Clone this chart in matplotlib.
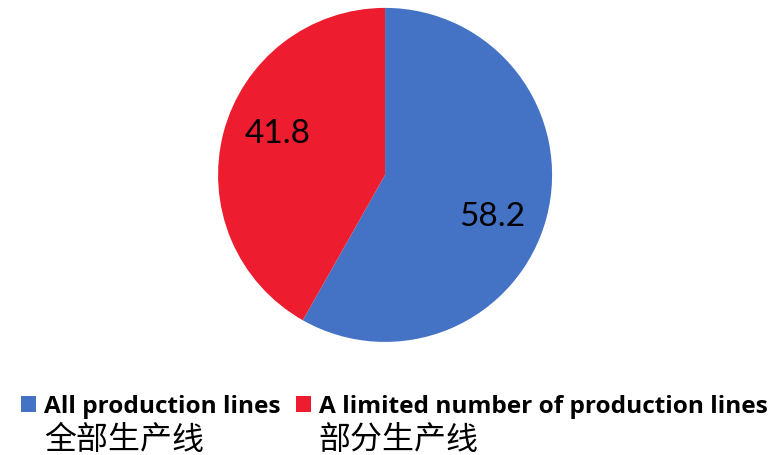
import numpy as np
import matplotlib.pyplot as plt

plt.rcParams['font.family'] = ['Lato', 'Noto Sans CJK SC', 'DejaVu Sans']

shares = [58.2, 41.8]
labels_en = ["All production lines", "A limited number of production lines"]
labels_zh = ["全部生产线", "部分生产线"]
colors = ["#4472C4", "#ED1C2E"]

fig = plt.figure(figsize=(7.68, 4.56), dpi=100)
ax = fig.add_axes([0.2839, 0.248, 0.435, 0.7325])

wedges, texts, autotexts = ax.pie(
    shares, colors=colors, startangle=90, counterclock=False,
    autopct=lambda p: f"{p:.1f}", pctdistance=0.69, radius=1.0,
    textprops=dict(fontsize=24, color="black"),
)
# nudge the value labels a little clockwise from the wedge middle
for w, t in zip(wedges, autotexts):
    ang = np.deg2rad((w.theta1 + w.theta2) / 2 - 6.3)
    t.set_position((0.69 * np.cos(ang), 0.69 * np.sin(ang)))
ax.set_xlim(-1, 1)
ax.set_ylim(-1, 1)
ax.set_aspect("equal")

leg = fig.legend(
    wedges, labels_en, loc="center left", bbox_to_anchor=(0.011, 0.107),
    ncol=2, frameon=False, handlelength=0.62, handleheight=0.62,
    handletextpad=0.33, columnspacing=0.62, borderpad=0,
    prop=dict(family=['Open Sans', 'DejaVu Sans'], weight='bold', size=17.6),
)

# Chinese names sit under the English legend labels
fig.canvas.draw()
renderer = fig.canvas.get_renderer()
inv = fig.transFigure.inverted()
for txt, zh in zip(leg.get_texts(), labels_zh):
    bb = txt.get_window_extent(renderer)
    x0, y0 = inv.transform((bb.x0, bb.y0))
    fig.text(x0, y0 - 0.01, zh, ha="left", va="top", fontsize=23,
             family=['Noto Sans CJK SC', 'DejaVu Sans'])

fig.savefig("out.png", dpi=100)
